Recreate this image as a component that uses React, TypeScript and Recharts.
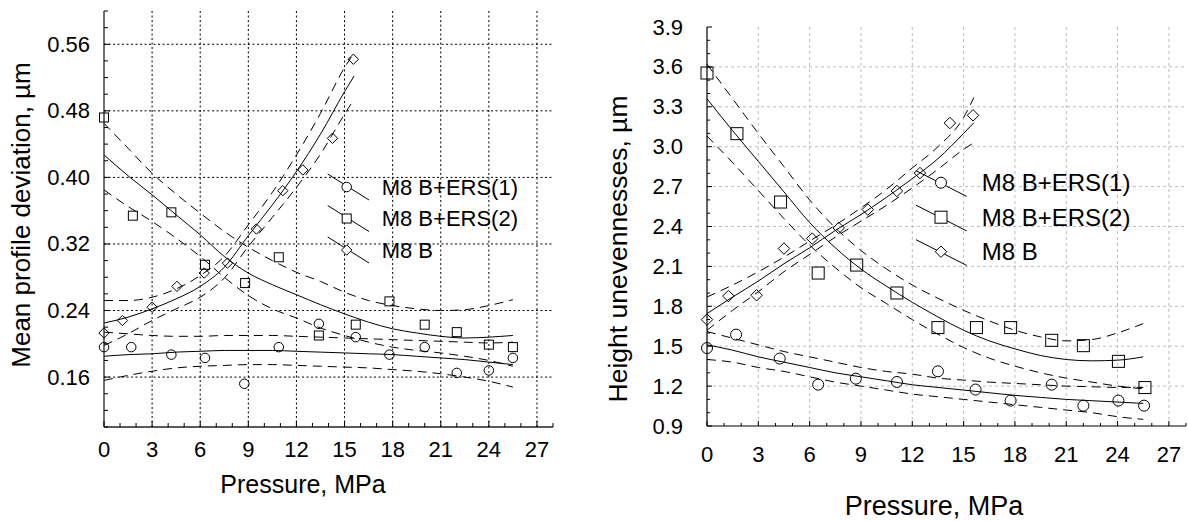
import React from "react";
import { ComposedChart, Line, Scatter, XAxis, YAxis, ReferenceLine, Legend } from "recharts";

const FONT = "'Liberation Sans', Arial, Helvetica, sans-serif";

// ---- shared x ticks (pressure, MPa)
const xMinorTicks = [0, 1, 2, 3, 4, 5, 6, 7, 8, 9, 10, 11, 12, 13, 14, 15, 16, 17, 18, 19, 20, 21, 22, 23, 24, 25, 26, 27, 28];
const xMajorTicks = [0, 3, 6, 9, 12, 15, 18, 21, 24, 27];

// x grid at which the fitted curves / confidence bands were read
const fitX = [0, 1.5, 3, 4.5, 6, 7.5, 9, 10.5, 12, 13.5, 15, 16.5, 18, 19.5, 21, 22.5, 24, 25.5];
const fitXShort = [0, 1.5, 3, 4.5, 6, 7.5, 9, 10.5, 12, 13.5, 15, 15.6];

// ---- left: mean profile deviation, µm
const devTicks = [0.1, 0.12, 0.14, 0.16, 0.18, 0.2, 0.22, 0.24, 0.26, 0.28, 0.3, 0.32, 0.34, 0.36, 0.38, 0.4, 0.42, 0.44, 0.46, 0.48, 0.5, 0.52, 0.54, 0.56, 0.58, 0.6];
const devLabels = [0.16, 0.24, 0.32, 0.4, 0.48, 0.56];

const devErs1X = [0, 1.7, 4.2, 6.3, 8.75, 10.9, 13.4, 15.7, 17.8, 20.0, 22.0, 24.0, 25.5];
const devErs1Y = [0.196, 0.196, 0.187, 0.183, 0.152, 0.196, 0.224, 0.208, 0.187, 0.196, 0.165, 0.168, 0.183];
const devErs2X = [0, 1.8, 4.2, 6.3, 8.8, 10.9, 13.4, 15.7, 17.8, 20.0, 22.0, 24.0, 25.5];
const devErs2Y = [0.472, 0.354, 0.358, 0.295, 0.273, 0.304, 0.21, 0.223, 0.251, 0.223, 0.214, 0.199, 0.196];
const devM8bX = [0, 1.15, 3.0, 4.55, 6.25, 7.7, 9.5, 11.15, 12.4, 14.25, 15.55];
const devM8bY = [0.213, 0.228, 0.244, 0.269, 0.285, 0.297, 0.338, 0.384, 0.409, 0.447, 0.542];

const devErs1Fit = [0.185, 0.187, 0.188, 0.19, 0.191, 0.192, 0.192, 0.192, 0.191, 0.19, 0.189, 0.188, 0.187, 0.185, 0.183, 0.181, 0.178, 0.175];
const devErs1Hi = [0.214, 0.212, 0.21, 0.209, 0.209, 0.21, 0.21, 0.21, 0.209, 0.208, 0.207, 0.206, 0.205, 0.204, 0.203, 0.202, 0.201, 0.202];
const devErs1Lo = [0.156, 0.162, 0.167, 0.171, 0.173, 0.174, 0.175, 0.175, 0.174, 0.173, 0.172, 0.171, 0.169, 0.167, 0.164, 0.16, 0.155, 0.148];
const devErs2Fit = [0.427, 0.402, 0.379, 0.355, 0.331, 0.305, 0.285, 0.271, 0.259, 0.247, 0.236, 0.226, 0.218, 0.213, 0.209, 0.207, 0.208, 0.21];
const devErs2Hi = [0.465, 0.435, 0.405, 0.38, 0.357, 0.335, 0.316, 0.3, 0.286, 0.275, 0.262, 0.252, 0.246, 0.242, 0.24, 0.241, 0.246, 0.253];
const devErs2Lo = [0.385, 0.365, 0.347, 0.327, 0.305, 0.28, 0.258, 0.242, 0.231, 0.219, 0.21, 0.202, 0.196, 0.192, 0.189, 0.185, 0.18, 0.173];
const devM8bFit = [0.225, 0.232, 0.242, 0.254, 0.269, 0.292, 0.33, 0.367, 0.407, 0.452, 0.503, 0.522];
const devM8bHi = [0.252, 0.252, 0.256, 0.266, 0.282, 0.305, 0.343, 0.382, 0.427, 0.477, 0.532, 0.55];
const devM8bLo = [0.198, 0.212, 0.228, 0.242, 0.256, 0.279, 0.317, 0.352, 0.388, 0.428, 0.476, 0.494];

// ---- right: height unevennesses, µm
const hTicks = [0.9, 1.0, 1.1, 1.2, 1.3, 1.4, 1.5, 1.6, 1.7, 1.8, 1.9, 2.0, 2.1, 2.2, 2.3, 2.4, 2.5, 2.6, 2.7, 2.8, 2.9, 3.0, 3.1, 3.2, 3.3, 3.4, 3.5, 3.6, 3.7, 3.8, 3.9];
const hLabels = [0.9, 1.2, 1.5, 1.8, 2.1, 2.4, 2.7, 3.0, 3.3, 3.6, 3.9];

const hErs1X = [0, 1.7, 4.25, 6.5, 8.7, 11.1, 13.5, 15.7, 17.75, 20.15, 22.0, 24.05, 25.55];
const hErs1Y = [1.486, 1.587, 1.407, 1.211, 1.256, 1.231, 1.311, 1.174, 1.091, 1.211, 1.053, 1.091, 1.053];
const hErs2X = [0, 1.75, 4.3, 6.5, 8.75, 11.1, 13.5, 15.75, 17.75, 20.15, 22.0, 24.05, 25.6];
const hErs2Y = [3.554, 3.098, 2.584, 2.05, 2.11, 1.9, 1.64, 1.64, 1.64, 1.544, 1.504, 1.386, 1.189];
const hM8bX = [0, 1.25, 2.9, 4.5, 6.15, 7.7, 9.4, 11.1, 12.45, 14.2, 15.55];
const hM8bY = [1.7, 1.877, 1.883, 2.234, 2.309, 2.389, 2.527, 2.667, 2.802, 3.178, 3.236];

const hErs1Fit = [1.51, 1.47, 1.42, 1.38, 1.34, 1.3, 1.27, 1.24, 1.21, 1.19, 1.17, 1.15, 1.13, 1.115, 1.1, 1.09, 1.08, 1.07];
const hErs1Hi = [1.61, 1.56, 1.51, 1.46, 1.42, 1.38, 1.34, 1.31, 1.29, 1.26, 1.245, 1.23, 1.22, 1.21, 1.2, 1.195, 1.19, 1.19];
const hErs1Lo = [1.4, 1.38, 1.34, 1.31, 1.27, 1.23, 1.2, 1.17, 1.14, 1.12, 1.1, 1.08, 1.06, 1.04, 1.02, 1.0, 0.97, 0.95];
const hErs2Fit = [3.36, 3.12, 2.89, 2.66, 2.43, 2.24, 2.08, 1.95, 1.83, 1.72, 1.62, 1.54, 1.48, 1.43, 1.4, 1.39, 1.395, 1.42];
const hErs2Hi = [3.62, 3.36, 3.1, 2.85, 2.6, 2.39, 2.22, 2.08, 1.96, 1.86, 1.77, 1.69, 1.62, 1.57, 1.54, 1.55, 1.6, 1.67];
const hErs2Lo = [3.08, 2.88, 2.67, 2.46, 2.26, 2.09, 1.94, 1.82, 1.7, 1.59, 1.49, 1.41, 1.35, 1.3, 1.26, 1.23, 1.2, 1.18];
const hM8bFit = [1.745, 1.87, 1.99, 2.12, 2.24, 2.37, 2.49, 2.62, 2.76, 2.91, 3.1, 3.18];
const hM8bHi = [1.87, 1.96, 2.06, 2.17, 2.29, 2.41, 2.54, 2.68, 2.84, 3.0, 3.22, 3.37];
const hM8bLo = [1.62, 1.77, 1.91, 2.06, 2.19, 2.32, 2.44, 2.56, 2.69, 2.83, 2.98, 3.03];

const legendNames = ["M8 B+ERS(1)", "M8 B+ERS(2)", "M8 B"];
const legendShapes = ["circle", "square", "diamond"];

const zip = (xs: number[], ys: number[]) => xs.map((x, i) => ({ x, y: ys[i] }));
const has = (list: number[], v: number) => list.some((l) => Math.abs(l - v) < 1e-6);

function drawMarker(kind: string, cx: number, cy: number, size: number, fill = "none") {
  const h = size / 2;
  if (kind === "circle") return <circle cx={cx} cy={cy} r={h} fill={fill} stroke="#000" strokeWidth={1} />;
  if (kind === "square") return <rect x={cx - h} y={cy - h} width={size} height={size} fill={fill} stroke="#000" strokeWidth={1} />;
  const d = h * 1.15;
  return <polygon points={`${cx},${cy - d} ${cx + d},${cy} ${cx},${cy + d} ${cx - d},${cy}`} fill={fill} stroke="#000" strokeWidth={1} />;
}

const markerShape = (kind: string, size: number) => (p: any) => drawMarker(kind, p.cx, p.cy, size);

type PanelProps = {
  left: number;
  width: number;
  margin: { top: number; right: number; bottom: number; left: number };
  yWidth: number;
  xHeight: number;
  yDomain: [number, number];
  yTicks: number[];
  yLabels: number[];
  digits: number;
  tickFont: number;
  xLabelDy: number;
  yLabelDx: number;
  majorLen: number;
  minorLen: number;
  grid: { stroke: string; dash: string };
  frame: { stroke: string; width: number };
  xTitle: { text: string; x: number; y: number; size: number };
  yTitle: { text: string; x: number; y: number; size: number };
  legend: { left: number; top: number; rows: number[]; x1: number; x2: number; up: number; down: number; mx: number; tx: number; font: number; sizes: number[] };
  points: { data: { x: number; y: number }[]; shape: string; size: number }[];
  fits: { data: { x: number; y: number }[]; dashed: boolean }[];
};

function Panel(c: PanelProps) {
  const txt = { fontFamily: FONT, fill: "#000" };
  const bottomTick = (p: any) => {
    const v = p.payload.value;
    const major = has(xMajorTicks, v);
    return (
      <g>
        <line x1={p.x} x2={p.x} y1={p.y} y2={p.y - (major ? c.majorLen : c.minorLen)} stroke="#000" />
        {major && (
          <text x={p.x} y={p.y + c.xLabelDy} textAnchor="middle" dominantBaseline="central" fontSize={c.tickFont} {...txt}>
            {v}
          </text>
        )}
      </g>
    );
  };
  const topTick = (p: any) => {
    const major = has(xMajorTicks, p.payload.value);
    return <line x1={p.x} x2={p.x} y1={p.y} y2={p.y + (major ? c.majorLen : c.minorLen)} stroke="#000" />;
  };
  const leftTick = (p: any) => {
    const v = p.payload.value;
    const major = has(c.yLabels, v);
    return (
      <g>
        <line x1={p.x} x2={p.x + (major ? c.majorLen : c.minorLen)} y1={p.y} y2={p.y} stroke="#000" />
        {major && (
          <text x={p.x - c.yLabelDx} y={p.y} textAnchor="end" dominantBaseline="central" fontSize={c.tickFont} {...txt}>
            {v.toFixed(c.digits)}
          </text>
        )}
      </g>
    );
  };
  const rightTick = (p: any) => {
    const major = has(c.yLabels, p.payload.value);
    return <line x1={p.x} x2={p.x - (major ? c.majorLen : c.minorLen)} y1={p.y} y2={p.y} stroke="#000" />;
  };
  const xTitle = () => (
    <text x={c.xTitle.x} y={c.xTitle.y} textAnchor="middle" dominantBaseline="central" fontSize={c.xTitle.size} {...txt}>
      {c.xTitle.text}
    </text>
  );
  const yTitle = () => (
    <text
      x={c.yTitle.x}
      y={c.yTitle.y}
      transform={`rotate(-90 ${c.yTitle.x} ${c.yTitle.y})`}
      textAnchor="middle"
      dominantBaseline="central"
      fontSize={c.yTitle.size}
      {...txt}
    >
      {c.yTitle.text}
    </text>
  );
  const lg = c.legend;
  const legendContent = () => (
    <svg width={240} height={120} style={{ display: "block" }}>
      {legendNames.map((name, i) => {
        const r = lg.rows[i];
        return (
          <g key={name}>
            <line x1={lg.x1} y1={r - lg.up} x2={lg.x2} y2={r + lg.down} stroke="#000" strokeWidth={1} />
            {drawMarker(legendShapes[i], lg.mx, r, lg.sizes[i], "#fff")}
            <text x={lg.tx} y={r} dominantBaseline="central" fontSize={lg.font} {...txt}>
              {name}
            </text>
          </g>
        );
      })}
    </svg>
  );
  const gridX = xMajorTicks.filter((v) => v > 0);
  const gridY = c.yLabels.filter((v) => v > c.yDomain[0] + 1e-6 && v < c.yDomain[1] - 1e-6);
  const axisLine = { stroke: c.frame.stroke, strokeWidth: c.frame.width };

  return (
    <div style={{ position: "absolute", left: c.left, top: 0 }}>
      <ComposedChart width={c.width} height={521} margin={c.margin}>
        <XAxis
          xAxisId="b"
          dataKey="x"
          type="number"
          domain={[0, 28]}
          ticks={xMinorTicks}
          interval={0}
          height={c.xHeight}
          tickSize={0}
          tickMargin={0}
          tickLine={false}
          axisLine={axisLine}
          tick={bottomTick}
          label={xTitle}
        />
        <XAxis
          xAxisId="t"
          orientation="top"
          type="number"
          domain={[0, 28]}
          ticks={xMinorTicks}
          interval={0}
          height={0}
          tickSize={0}
          tickMargin={0}
          tickLine={false}
          axisLine={axisLine}
          tick={topTick}
        />
        <YAxis
          yAxisId="l"
          dataKey="y"
          type="number"
          domain={c.yDomain}
          ticks={c.yTicks}
          interval={0}
          width={c.yWidth}
          tickSize={0}
          tickMargin={0}
          tickLine={false}
          axisLine={axisLine}
          tick={leftTick}
          label={yTitle}
        />
        <YAxis
          yAxisId="r"
          orientation="right"
          type="number"
          domain={c.yDomain}
          ticks={c.yTicks}
          interval={0}
          width={0}
          tickSize={0}
          tickMargin={0}
          tickLine={false}
          axisLine={axisLine}
          tick={rightTick}
        />
        {gridX.map((v) => (
          <ReferenceLine key={`gx${v}`} x={v} xAxisId="b" yAxisId="l" stroke={c.grid.stroke} strokeDasharray={c.grid.dash} strokeWidth={1} />
        ))}
        {gridY.map((v) => (
          <ReferenceLine key={`gy${v}`} y={v} xAxisId="b" yAxisId="l" stroke={c.grid.stroke} strokeDasharray={c.grid.dash} strokeWidth={1} />
        ))}
        {c.fits.map((f, i) => (
          <Line
            key={`f${i}`}
            data={f.data}
            dataKey="y"
            xAxisId="b"
            yAxisId="l"
            type="monotone"
            stroke="#000"
            strokeWidth={1}
            strokeDasharray={f.dashed ? "9 6" : undefined}
            dot={false}
            activeDot={false}
            isAnimationActive={false}
          />
        ))}
        {c.points.map((s, i) => (
          <Scatter key={`s${i}`} data={s.data} xAxisId="b" yAxisId="l" shape={markerShape(s.shape, s.size)} isAnimationActive={false} />
        ))}
        <Legend
          layout="horizontal"
          verticalAlign="middle"
          align="center"
          wrapperStyle={{ left: lg.left, top: lg.top, width: 240, height: 120 }}
          content={legendContent}
        />
      </ComposedChart>
    </div>
  );
}

export default function App() {
  return (
    <div style={{ position: "absolute", left: 0, top: 0, width: 1188, height: 521, background: "#fff", fontFamily: FONT }}>
      <Panel
        left={0}
        width={560}
        margin={{ top: 11, right: 7, bottom: 0, left: 0 }}
        yWidth={104}
        xHeight={94}
        yDomain={[0.1, 0.6]}
        yTicks={devTicks}
        yLabels={devLabels}
        digits={2}
        tickFont={22}
        xLabelDy={22}
        yLabelDx={14}
        majorLen={6}
        minorLen={4}
        grid={{ stroke: "#000", dash: "2 2.5" }}
        frame={{ stroke: "#222", width: 1.3 }}
        xTitle={{ text: "Pressure, MPa", x: 303, y: 484, size: 25 }}
        yTitle={{ text: "Mean profile deviation, µm", x: 21, y: 215, size: 26 }}
        legend={{ left: 320, top: 160, rows: [27, 58.5, 90], x1: 7.7, x2: 49, up: 13, down: 13, mx: 26.7, tx: 61.7, font: 22, sizes: [9.5, 9, 9] }}
        points={[
          { data: zip(devErs1X, devErs1Y), shape: "circle", size: 9.5 },
          { data: zip(devErs2X, devErs2Y), shape: "square", size: 9 },
          { data: zip(devM8bX, devM8bY), shape: "diamond", size: 9 },
        ]}
        fits={[
          { data: zip(fitX, devErs1Fit), dashed: false },
          { data: zip(fitX, devErs1Hi), dashed: true },
          { data: zip(fitX, devErs1Lo), dashed: true },
          { data: zip(fitX, devErs2Fit), dashed: false },
          { data: zip(fitX, devErs2Hi), dashed: true },
          { data: zip(fitX, devErs2Lo), dashed: true },
          { data: zip(fitXShort, devM8bFit), dashed: false },
          { data: zip(fitXShort, devM8bHi), dashed: true },
          { data: zip(fitXShort, devM8bLo), dashed: true },
        ]}
      />
      <Panel
        left={600}
        width={588}
        margin={{ top: 27, right: 2, bottom: 0, left: 0 }}
        yWidth={107}
        xHeight={95}
        yDomain={[0.9, 3.9]}
        yTicks={hTicks}
        yLabels={hLabels}
        digits={1}
        tickFont={22}
        xLabelDy={28}
        yLabelDx={24}
        majorLen={5}
        minorLen={3}
        grid={{ stroke: "#bdbdbd", dash: "3 3" }}
        frame={{ stroke: "#000", width: 1.2 }}
        xTitle={{ text: "Pressure, MPa", x: 334, y: 506, size: 27 }}
        yTitle={{ text: "Height unevennesses, µm", x: 18, y: 249, size: 26.5 }}
        legend={{ left: 310, top: 160, rows: [22.7, 57.2, 91.7], x1: 6, x2: 56.7, up: 12, down: 13.7, mx: 31, tx: 71.7, font: 24, sizes: [11, 12, 10] }}
        points={[
          { data: zip(hErs1X, hErs1Y), shape: "circle", size: 11 },
          { data: zip(hErs2X, hErs2Y), shape: "square", size: 12 },
          { data: zip(hM8bX, hM8bY), shape: "diamond", size: 10 },
        ]}
        fits={[
          { data: zip(fitX, hErs1Fit), dashed: false },
          { data: zip(fitX, hErs1Hi), dashed: true },
          { data: zip(fitX, hErs1Lo), dashed: true },
          { data: zip(fitX, hErs2Fit), dashed: false },
          { data: zip(fitX, hErs2Hi), dashed: true },
          { data: zip(fitX, hErs2Lo), dashed: true },
          { data: zip(fitXShort, hM8bFit), dashed: false },
          { data: zip(fitXShort, hM8bHi), dashed: true },
          { data: zip(fitXShort, hM8bLo), dashed: true },
        ]}
      />
    </div>
  );
}
